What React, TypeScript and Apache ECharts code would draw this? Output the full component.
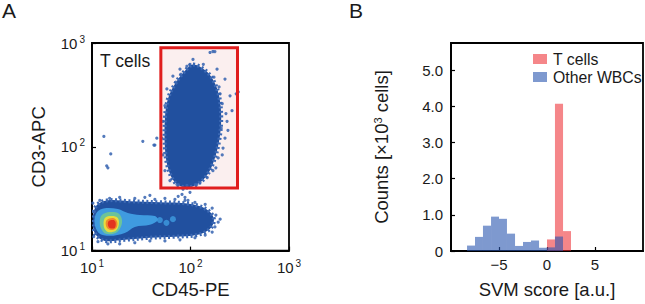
import React, { useEffect, useRef } from "react";
import * as echarts from "echarts";

const FONT = '"Liberation Sans", Arial, sans-serif';
const INK = "#1a1a1a";

// ---------- Panel A: CD45-PE vs CD3-APC (log axes) ----------
const gateCD45 = [50, 300];
const gateCD3 = [40, 900];

// dense T-cell population outline [CD45, CD3]
const tCellBlob = [
  [106, 620], [141, 545], [170, 439], [195, 310], [205, 188], [195, 113],
  [170, 70], [141, 50.5], [111, 42.4], [88, 40.6], [69.5, 45.2], [59, 62.8],
  [55, 97.3], [55, 188], [59, 290], [69.5, 403], [88, 540],
];

// other WBC population outline and density levels [CD45, CD3]
const otherBlob = [
  [10.4, 23.5], [11.4, 27.9], [14.5, 30.5], [24.2, 29.9], [48.9, 29.2], [87.9, 28.6],
  [125, 26.7], [158, 23.5], [173, 19.7], [158, 16.2], [119, 14.2], [69.5, 13.6],
  [38.7, 13.3], [21.5, 12.7], [13.5, 12.4], [10.9, 14.2], [10.2, 17.7],
];
const otherLevelLightBlue = [
  [11.2, 23.4], [13.5, 25.6], [18.3, 25.1], [23.1, 23.0], [30.6, 22.0], [43.5, 21.5],
  [46.7, 19.7], [38.7, 17.7], [27.2, 16.9], [21.5, 14.8], [15.1, 13.9], [11.7, 14.8],
  [10.6, 18.5],
];
const otherLevelGreen = [
  [12.6, 22.0], [15.1, 23.5], [18.3, 23.0], [20.1, 20.1], [19.6, 16.9], [17.4, 14.8],
  [13.8, 14.5], [12.3, 16.5], [12.0, 19.3],
];
const otherLevelYellow = [
  [13.5, 20.6], [15.9, 21.5], [18.3, 20.6], [18.7, 17.7], [17.4, 15.5], [14.5, 15.1],
  [13.2, 16.9],
];
const otherLevelOrange = [
  [14.1, 19.7], [16.3, 20.6], [17.9, 19.3], [17.9, 16.9], [16.3, 15.8], [14.5, 16.2],
  [13.8, 17.7],
];
const otherLevelRed = [
  [14.8, 19.3], [16.6, 19.7], [17.4, 18.5], [17.0, 16.5], [15.1, 16.5], [14.5, 17.7],
];
const lightBlueSpots = [[48.9, 19.7], [66.3, 20.1], [57, 18.5]];

// sparse events around the populations [CD45, CD3]
const tCellSpeckles = [
  [158, 810], [177, 827], [135, 623], [106, 695], [98.8, 623], [186, 559], [224, 449],
  [252, 310], [264, 223], [235, 176], [224, 121], [210, 83.5], [191, 78.2], [169, 58.8],
  [148, 50.5], [116, 43.4], [92, 42.4], [72.8, 43.4], [61.8, 47.3], [55, 58.8],
  [52.5, 83.5], [51.3, 121], [43.5, 104], [52.5, 176], [55, 249], [57.6, 361],
  [66.3, 479], [78.2, 559], [92, 597], [305, 338], [82, 34.8], [84, 39], [98.8, 36.4],
  [200, 324], [210, 260], [229, 209], [205, 151], [195, 377], [173, 469], [214, 97.3],
  [240, 144], [181, 62.8], [125, 45.3], [71, 420], [80, 500], [87.9, 32.6], [94.3, 30.5],
  [75, 33.3],
];
const strayEvents = [
  [13.2, 126], [15.5, 85.4], [14.1, 65.6], [14.5, 62.8], [32.8, 113], [42.5, 104],
  [45.5, 121], [169, 828], [291, 324],
];
const otherSpeckles = [
  [12.0, 30.5], [15.1, 31.9], [19.1, 32.6], [27.2, 31.9], [34.4, 32.6], [43.5, 31.2],
  [55, 31.9], [69.5, 31.2], [87.9, 30.5], [111, 29.2], [141, 27.9], [38.7, 34.1],
  [166, 25.6], [181, 22.0], [191, 18.8], [177, 16.9], [166, 15.1], [141, 14.1],
  [111, 13.3], [78.2, 12.7], [55, 12.4], [38.7, 12.4], [27.2, 11.9], [19.1, 11.6],
  [14.5, 11.6], [11.5, 12.2], [10.2, 28.6], [10.4, 13.6], [200, 20.1],
];

// ---------- Panel B: SVM score histogram ----------
const binEdges = [-8.33, -7.5, -6.67, -5.83, -5, -4.17, -3.33, -2.5, -1.67, -0.83, 0, 0.83, 1.67, 2.5];
const tCellCounts = [0, 0, 0, 0, 0, 0, 0, 0, 0, 0, 0.32, 4.07, 0.55];
const otherWbcCounts = [0.15, 0.39, 0.7, 0.95, 0.89, 0.48, 0.14, 0.25, 0.29, 0.09, 0.1, 0.4, 0];
const seriesNames = ["T cells", "Other WBCs"];

const RED = "rgba(238,40,45,0.56)";
const BLUE = "rgba(40,85,175,0.6)";

function supLabel(v: number) {
  return `{b|10}{s|${Math.round(Math.log10(v))}}`;
}
const supRich = {
  b: { fontSize: 15, fontFamily: FONT, color: INK, lineHeight: 18 },
  s: { fontSize: 10, fontFamily: FONT, color: INK, verticalAlign: "top", lineHeight: 10, padding: [0, 0, 0, 2] },
};

function polySeries(poly: number[][], color: string, z: number, fuzzy = false) {
  return {
    type: "custom",
    xAxisIndex: 0,
    yAxisIndex: 0,
    silent: true,
    z,
    clip: true,
    data: [poly[0]],
    renderItem: (_p: any, api: any) => ({
      type: "polygon",
      shape: { points: poly.map((pt) => api.coord(pt)), smooth: 0.35 },
      style: fuzzy
        ? { fill: color, stroke: "#3b68b4", lineWidth: 4, lineDash: [2, 2.5], opacity: 1 }
        : { fill: color },
    }),
  };
}

function histSeries(name: string, counts: number[], color: string, z: number) {
  return {
    type: "custom",
    name,
    xAxisIndex: 1,
    yAxisIndex: 1,
    z,
    itemStyle: { color },
    data: counts.map((c, i) => [binEdges[i], c, binEdges[i + 1]]),
    renderItem: (_p: any, api: any) => {
      const v = api.value(1);
      if (!(v > 0)) return null;
      const a = api.coord([api.value(0), 0]);
      const b = api.coord([api.value(2), v]);
      return {
        type: "rect",
        shape: { x: a[0], y: b[1], width: b[0] - a[0], height: a[1] - b[1] },
        style: { fill: color },
      };
    },
  };
}

export default function App() {
  const ref = useRef<HTMLDivElement>(null);
  useEffect(() => {
    if (!ref.current) return;
    const chart = echarts.init(ref.current, null, { renderer: "svg" });
    const axisCommon = {
      axisLine: { show: true, onZero: false, lineStyle: { color: "#000", width: 1.8 } },
      axisTick: { show: true, inside: true, length: 4, lineStyle: { color: "#000", width: 1.2 } },
      splitLine: { show: false },
      nameLocation: "middle",
      nameTextStyle: { fontSize: 18.5, fontFamily: FONT, color: INK },
    };
    chart.setOption({
      animation: false,
      backgroundColor: "#fff",
      textStyle: { fontFamily: FONT },
      grid: [
        { left: 92, top: 43, width: 197, height: 211, show: true, borderColor: "#000", borderWidth: 1.8, backgroundColor: "transparent" },
        { left: 451, top: 43, width: 192, height: 212, show: true, borderColor: "#000", borderWidth: 1.8, backgroundColor: "transparent" },
      ],
      xAxis: [
        {
          ...axisCommon,
          gridIndex: 0,
          type: "log",
          logBase: 10,
          min: 10,
          max: 1000,
          name: "CD45-PE",
          nameGap: 27,
          axisLabel: { margin: 8, formatter: supLabel, rich: supRich },
        },
        {
          ...axisCommon,
          gridIndex: 1,
          type: "value",
          min: -10,
          max: 10,
          interval: 5,
          name: "SVM score [a.u.]",
          nameGap: 29,
          axisLabel: {
            margin: 6,
            fontSize: 15,
            color: INK,
            fontFamily: FONT,
            showMinLabel: false,
            showMaxLabel: false,
            formatter: (v: number) => (v < 0 ? "\u2212" + Math.abs(v) : String(v)),
          },
        },
      ],
      yAxis: [
        {
          ...axisCommon,
          gridIndex: 0,
          type: "log",
          logBase: 10,
          min: 10,
          max: 1000,
          name: "CD3-APC",
          nameGap: 44,
          axisLabel: { margin: 7, formatter: supLabel, rich: supRich },
        },
        {
          ...axisCommon,
          gridIndex: 1,
          type: "value",
          min: 0,
          max: 5.75,
          interval: 1,
          name: "Counts [\u00d710{sup|3} cells]",
          nameGap: 60,
          nameTextStyle: {
            fontSize: 18.5,
            fontFamily: FONT,
            color: INK,
            rich: {
              sup: { fontSize: 11, fontFamily: FONT, color: INK, verticalAlign: "top", lineHeight: 11 },
            },
          },
          axisLabel: {
            margin: 8,
            fontSize: 15,
            color: INK,
            fontFamily: FONT,
            showMaxLabel: false,
            formatter: (v: number) => (v === 0 ? "0" : v.toFixed(1)),
          },
        },
      ],
      legend: {
        left: 528,
        top: 46,
        orient: "vertical",
        itemWidth: 14,
        itemHeight: 10,
        itemGap: 2,
        icon: "rect",
        textStyle: { fontSize: 15.8, fontFamily: FONT, color: INK, padding: [0, 0, 0, 1] },
        data: [
          { name: seriesNames[0], itemStyle: { color: RED } },
          { name: seriesNames[1], itemStyle: { color: BLUE } },
        ],
      },
      graphic: [
        { type: "text", left: 2, top: 0, style: { text: "A", fontSize: 21, fontFamily: FONT, fill: INK } },
        { type: "text", left: 349, top: 0, style: { text: "B", fontSize: 21, fontFamily: FONT, fill: INK } },
        { type: "text", left: 100, top: 52, z: 10, style: { text: "T cells", fontSize: 17.5, fontFamily: FONT, fill: INK } },
      ],
      series: [
        // gate fill
        {
          type: "custom",
          xAxisIndex: 0,
          yAxisIndex: 0,
          silent: true,
          z: 1,
          data: [[gateCD45[0], gateCD3[0]]],
          renderItem: (_p: any, api: any) => {
            const a = api.coord([gateCD45[0], gateCD3[1]]);
            const b = api.coord([gateCD45[1], gateCD3[0]]);
            return {
              type: "rect",
              shape: { x: a[0], y: a[1], width: b[0] - a[0], height: b[1] - a[1] },
              style: { fill: "#fbefef" },
            };
          },
        },
        polySeries(tCellBlob, "#21509f", 2, true),
        polySeries(otherBlob, "#21509f", 2, true),
        polySeries(otherLevelLightBlue, "#3f9be0", 3),
        {
          type: "scatter",
          xAxisIndex: 0,
          yAxisIndex: 0,
          silent: true,
          z: 3,
          symbolSize: 6,
          itemStyle: { color: "#3f9be0" },
          data: lightBlueSpots,
        },
        polySeries(otherLevelGreen, "#6cc39a", 4),
        polySeries(otherLevelYellow, "#e7dc3d", 5),
        polySeries(otherLevelOrange, "#ef8a2d", 6),
        polySeries(otherLevelRed, "#e3321f", 7),
        {
          type: "scatter",
          xAxisIndex: 0,
          yAxisIndex: 0,
          silent: true,
          z: 3,
          symbolSize: 3.2,
          itemStyle: { color: "#3563b0", opacity: 0.85 },
          data: [...tCellSpeckles, ...otherSpeckles, ...strayEvents],
        },
        // gate outline
        {
          type: "custom",
          xAxisIndex: 0,
          yAxisIndex: 0,
          silent: true,
          z: 8,
          data: [[gateCD45[0], gateCD3[0]]],
          renderItem: (_p: any, api: any) => {
            const a = api.coord([gateCD45[0], gateCD3[1]]);
            const b = api.coord([gateCD45[1], gateCD3[0]]);
            return {
              type: "rect",
              shape: { x: a[0], y: a[1], width: b[0] - a[0], height: b[1] - a[1] },
              style: { fill: "none", stroke: "#e01e1e", lineWidth: 3 },
            };
          },
        },
        histSeries(seriesNames[0], tCellCounts, RED, 2),
        histSeries(seriesNames[1], otherWbcCounts, BLUE, 3),
      ],
    });
    return () => chart.dispose();
  }, []);
  return (
    <div
      ref={ref}
      style={{ position: "fixed", left: 0, top: 0, width: 645, height: 304, background: "#fff" }}
    />
  );
}
